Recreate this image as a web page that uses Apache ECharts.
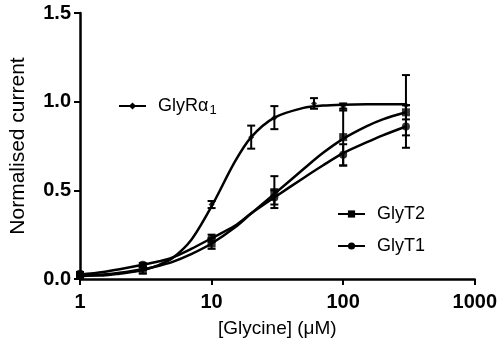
<!DOCTYPE html>
<html>
<head>
<meta charset="utf-8">
<script src="https://cdn.jsdelivr.net/npm/echarts@6/dist/echarts.min.js"></script>
<style>
  html, body { margin: 0; padding: 0; background: #fff; }
  #chart { width: 500px; height: 344px; }
</style>
</head>
<body>
<div id="chart"></div>
<script>
// Measured responses (mean ± SEM) at each glycine concentration (µM)
const glyRDoses = [1, 3, 10, 20, 30, 60, 100, 300];
const glyRMean  = [0.02, 0.06, 0.42, 0.80, 0.91, 0.99, 0.97, 0.98];
const glyRErr   = [0.01, 0.01, 0.02, 0.065, 0.065, 0.03, 0.02, 0.17];

const glyTDoses = [1, 3, 10, 30, 100, 300];
const glyT2Mean = [0.02, 0.05, 0.20, 0.49, 0.80, 0.94];
const glyT2Err  = [0.01, 0.02, 0.03, 0.09, 0.16, 0.04];
const glyT1Mean = [0.03, 0.08, 0.23, 0.46, 0.70, 0.86];
const glyT1Err  = [0.01, 0.01, 0.02, 0.04, 0.06, 0.12];

// Fitted concentration–response curves, sampled along the x range
const curveX      = [1, 1.5, 2, 3, 4, 5, 7, 10, 15, 20, 30, 50, 70, 100, 150, 200, 300];
const glyRCurve   = [0.02, 0.02, 0.03, 0.05, 0.08, 0.115, 0.22, 0.41, 0.66, 0.80, 0.91, 0.965, 0.978, 0.983, 0.985, 0.985, 0.985];
const glyT2Curve  = [0.015, 0.025, 0.035, 0.055, 0.075, 0.095, 0.14, 0.20, 0.29, 0.37, 0.48, 0.62, 0.71, 0.79, 0.86, 0.90, 0.94];
const glyT1Curve  = [0.025, 0.04, 0.055, 0.08, 0.10, 0.12, 0.17, 0.23, 0.30, 0.37, 0.46, 0.57, 0.64, 0.71, 0.77, 0.81, 0.86];

const yTicks = [0, 0.5, 1.0, 1.5];
const xTicks = [1, 10, 100, 1000];

const FONT = 'Liberation Sans, Arial, sans-serif';

function pairs(xs, ys) { return xs.map((x, i) => [x, ys[i]]); }
function bars(xs, m, e) { return xs.map((x, i) => [x, m[i] - e[i], m[i] + e[i]]); }

function renderErr(params, api) {
  const x = api.value(0);
  const lo = api.coord([x, api.value(1)]);
  const hi = api.coord([x, api.value(2)]);
  const w = 4;
  const st = { stroke: '#000', lineWidth: 2 };
  return {
    type: 'group',
    children: [
      { type: 'line', shape: { x1: lo[0], y1: lo[1], x2: hi[0], y2: hi[1] }, style: st },
      { type: 'line', shape: { x1: lo[0] - w, y1: lo[1], x2: lo[0] + w, y2: lo[1] }, style: st },
      { type: 'line', shape: { x1: hi[0] - w, y1: hi[1], x2: hi[0] + w, y2: hi[1] }, style: st }
    ]
  };
}

function curve(name, data, symbol, size) {
  return {
    name: name, type: 'line', data: data, smooth: 0.3,
    symbol: symbol, symbolSize: size, showSymbol: false,
    lineStyle: { color: '#000', width: 2.5 },
    itemStyle: { color: '#000' },
    z: 3
  };
}
function points(name, data, symbol, size) {
  return {
    name: name, type: 'scatter', data: data,
    symbol: symbol, symbolSize: size,
    itemStyle: { color: '#000' }, z: 5
  };
}
function errs(name, data) {
  return { name: name, type: 'custom', data: data, renderItem: renderErr, z: 4 };
}

const chart = echarts.init(document.getElementById('chart'), null, { renderer: 'canvas' });

const legendText = { fontFamily: FONT, fontSize: 18, color: '#000', padding: [0, 0, 0, 7] };
const legendBase = {
  orient: 'vertical',
  itemWidth: 27, itemHeight: 9,
  textStyle: legendText
};

chart.setOption({
  animation: false,
  backgroundColor: '#fff',
  grid: { left: 78, right: 24, top: 13, bottom: 65, containLabel: false },
  legend: [
    Object.assign({}, legendBase, {
      data: ['GlyRα1'], left: 113, top: 92,
      formatter: () => '{a|GlyRα}{s|1}',
      textStyle: Object.assign({}, legendText, {
        rich: {
          a: { fontFamily: FONT, fontSize: 18, color: '#000' },
          s: { fontFamily: FONT, fontSize: 13, color: '#000', padding: [9, 0, 0, 1] }
        }
      })
    }),
    Object.assign({}, legendBase, { data: ['GlyT2'], left: 332, top: 200 }),
    Object.assign({}, legendBase, { data: ['GlyT1'], left: 332, top: 232 })
  ],
  xAxis: {
    type: 'log', logBase: 10, min: 1, max: 1000,
    name: '[Glycine] (μM)', nameLocation: 'middle', nameGap: 40,
    nameTextStyle: { fontFamily: FONT, fontSize: 19, color: '#000' },
    axisLine: { lineStyle: { color: '#000', width: 2.5 } },
    axisTick: { show: true, length: 6, lineStyle: { color: '#000', width: 2 } },
    minorTick: { show: false },
    splitLine: { show: false },
    axisLabel: {
      fontFamily: FONT, fontSize: 20, fontWeight: 'bold', color: '#000', margin: 13,
      formatter: v => (xTicks.indexOf(Math.round(v)) >= 0 ? String(Math.round(v)) : '')
    }
  },
  yAxis: {
    type: 'value', min: yTicks[0], max: yTicks[yTicks.length - 1], interval: 0.5,
    name: 'Normalised current', nameLocation: 'middle', nameGap: 51,
    nameTextStyle: { fontFamily: FONT, fontSize: 21, color: '#000' },
    axisLine: { show: true, lineStyle: { color: '#000', width: 2.5 } },
    axisTick: { show: true, length: 6, lineStyle: { color: '#000', width: 2 } },
    splitLine: { show: false },
    axisLabel: {
      fontFamily: FONT, fontSize: 20, fontWeight: 'bold', color: '#000', margin: 9,
      formatter: v => v.toFixed(1)
    }
  },
  series: [
    curve('GlyRα1', pairs(curveX, glyRCurve), 'diamond', 6),
    curve('GlyT2', pairs(curveX, glyT2Curve), 'rect', 8),
    curve('GlyT1', pairs(curveX, glyT1Curve), 'circle', 8),
    errs('GlyRα1 error', bars(glyRDoses, glyRMean, glyRErr)),
    errs('GlyT2 error', bars(glyTDoses, glyT2Mean, glyT2Err)),
    errs('GlyT1 error', bars(glyTDoses, glyT1Mean, glyT1Err)),
    points('GlyRα1 mean', pairs(glyRDoses, glyRMean), 'diamond', 6),
    points('GlyT2 mean', pairs(glyTDoses, glyT2Mean), 'rect', 8),
    points('GlyT1 mean', pairs(glyTDoses, glyT1Mean), 'circle', 8)
  ]
});
</script>
</body>
</html>
